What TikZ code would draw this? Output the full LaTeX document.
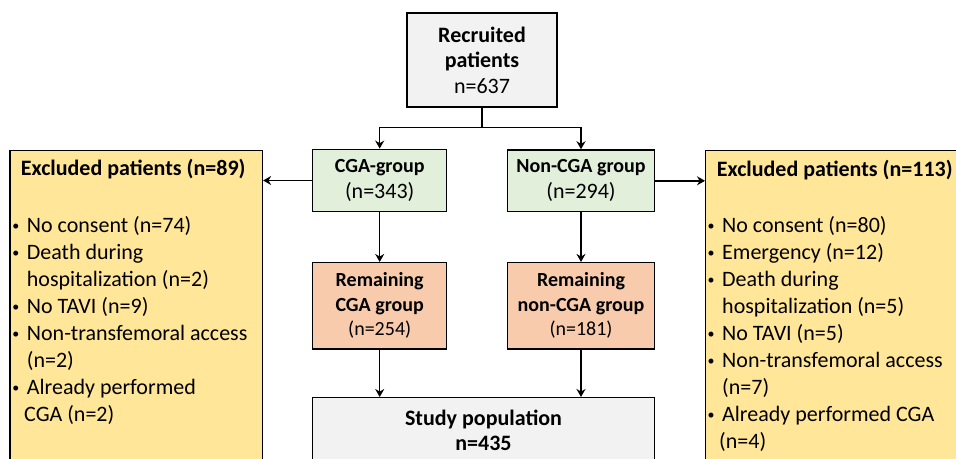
\documentclass[tikz,border=0pt]{standalone}
\usepackage{fontspec}
\setmainfont{Carlito}
\usetikzlibrary{arrows.meta}
\definecolor{boxgray}{HTML}{F2F2F2}
\definecolor{boxgreen}{HTML}{E2EFDA}
\definecolor{boxorange}{HTML}{F8CBAD}
\definecolor{boxyellow}{HTML}{FFE699}
\newcommand\smbul{\llap{\makebox[16pt][l]{\hspace{1.5pt}\raisebox{1.8pt}{\fontsize{14}{14}\selectfont •}}}}
\begin{document}
\begin{tikzpicture}[x=1pt,y=-1pt,
  box/.style={draw=black, line width=1.4pt, inner sep=0pt, align=center},
  arr/.style={line width=1.4pt, -{Stealth[length=8pt,width=9pt]}},
  conn/.style={line width=1.4pt},
  txt/.style={anchor=base west, inner sep=0pt, font=\fontsize{22}{27}\selectfont},
  ttl/.style={anchor=base west, inner sep=0pt, font=\bfseries\fontsize{22}{27}\selectfont}]
\useasboundingbox (0,0) rectangle (956,458);
\clip (0,0) rectangle (956,458);

% boxes
\node[box, fill=boxgray, minimum width=150pt, minimum height=94pt,
      font=\fontsize{22}{25.5}\selectfont] (rec) at (482,60)
      {\textbf{Recruited}\\\textbf{patients}\\n=637};
\node[box, fill=boxgreen, minimum width=134pt, minimum height=62.4pt,
      font=\fontsize{20}{26}\selectfont] (cga) at (379.7,180.5)
      {\textbf{CGA-group}\\{\fontsize{22}{26}\selectfont (n=343)}};
\node[box, fill=boxgreen, minimum width=146.6pt, minimum height=61.7pt,
      font=\fontsize{20}{26}\selectfont] (noncga) at (581,180.8)
      {\textbf{Non-CGA group}\\{\fontsize{22}{26}\selectfont (n=294)}};
\node[box, fill=boxorange, minimum width=134pt, minimum height=86.3pt,
      font=\fontsize{20}{24.5}\selectfont] (remc) at (379.7,305.8)
      {\textbf{Remaining}\\\textbf{CGA group}\\(n=254)};
\node[box, fill=boxorange, minimum width=146.6pt, minimum height=86.3pt,
      font=\fontsize{20}{24.5}\selectfont] (remn) at (581,305.8)
      {\textbf{Remaining}\\\textbf{non-CGA group}\\(n=181)};
\node[box, fill=boxgray, minimum width=341.6pt, minimum height=64.6pt,
      font=\bfseries\fontsize{22}{25}\selectfont] (study) at (483.5,430)
      {Study population\\n=435};
\node[box, fill=boxyellow, anchor=north west, minimum width=252.4pt,
      minimum height=330pt] (exL) at (9.3,150) {};
\node[box, fill=boxyellow, anchor=north west, minimum width=300pt,
      minimum height=330pt] (exR) at (705,150) {};

% left excluded text
\node[ttl] (exLt) at (20.7,175) {Excluded patients (n=89)};
\node[txt] (l1) at (26.7,232) {\smbul No consent (n=74)};
\node[txt] (l2) at (26.7,259) {\smbul Death during};
\node[txt] (l3) at (26.7,286) {hospitalization (n=2)};
\node[txt] (l4) at (26.7,313) {\smbul No TAVI (n=9)};
\node[txt] (l5) at (26.7,340) {\smbul Non-transfemoral access};
\node[txt] (l6) at (26.7,367) {(n=2)};
\node[txt] (l7) at (26.7,394) {\smbul Already performed};
\node[txt] (l8) at (24,421) {CGA (n=2)};

% right excluded text
\node[ttl] (exRt) at (716.7,176) {Excluded patients (n=113)};
\node[txt] (r1) at (722,232) {\smbul No consent (n=80)};
\node[txt] (r2) at (722,259) {\smbul Emergency (n=12)};
\node[txt] (r3) at (722,286) {\smbul Death during};
\node[txt] (r4) at (722,313) {hospitalization (n=5)};
\node[txt] (r5) at (722,340) {\smbul No TAVI (n=5)};
\node[txt] (r6) at (722,367) {\smbul Non-transfemoral access};
\node[txt] (r7) at (722,394) {(n=7)};
\node[txt] (r8) at (722,421) {\smbul Already performed CGA};
\node[txt] (r9) at (719,448) {(n=4)};

% connectors
\draw[conn] (rec.south) -- ++(0,20) coordinate (split);
\draw[arr] (split) -| (cga.north);
\draw[arr] (split) -| (noncga.north);
\draw[arr] (cga.west) -- (cga.west -| exL.east);
\draw[arr] (noncga.east) -- (noncga.east -| exR.west);
\draw[arr] (cga.south) -- (remc.north);
\draw[arr] (noncga.south) -- (remn.north);
\draw[arr] (remc.south) -- (remc.south |- study.north);
\draw[arr] (remn.south) -- (remn.south |- study.north);
\end{tikzpicture}
\end{document}
